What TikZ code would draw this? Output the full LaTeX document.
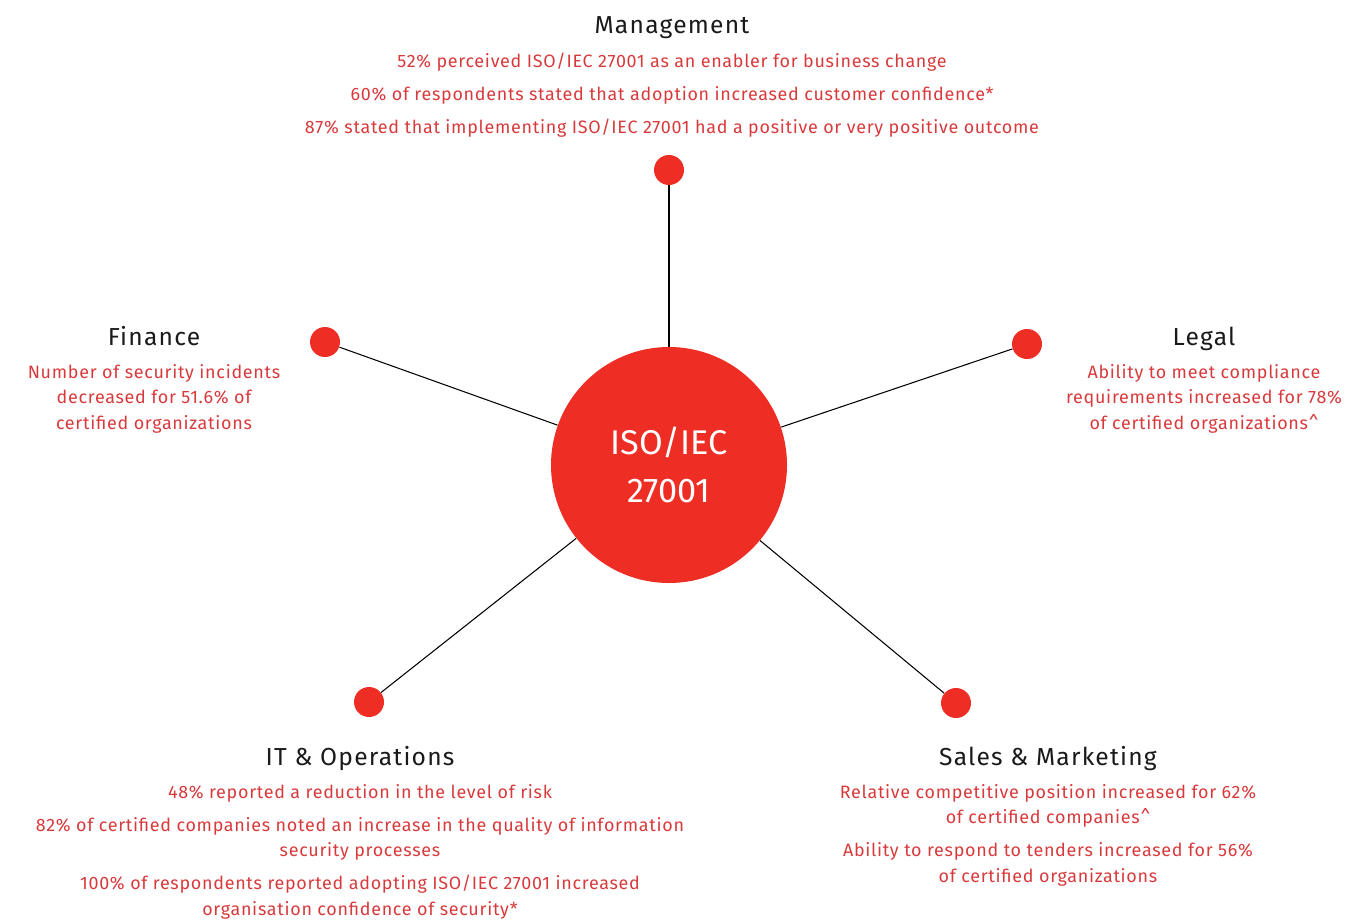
\documentclass[tikz,border=0pt]{standalone}
\usepackage{fontspec}
\setmainfont{Fira Sans}
\newfontfamily\statfont{Fira Sans}[LetterSpace=4]
\newfontfamily\headfont{Fira Sans}[LetterSpace=5]
\usetikzlibrary{positioning}

\definecolor{isored}{HTML}{EE2E24}
\definecolor{statred}{HTML}{D83A3C}
\definecolor{headblack}{HTML}{1A1A1A}

\tikzset{
  hub/.style={circle, fill=isored, minimum size=4.72cm, inner sep=0pt, text=white, align=center,
    font=\fontsize{19.5}{27}\selectfont},
  spoke/.style={circle, fill=isored, minimum size=0.6cm, inner sep=0pt},
  heading/.style={anchor=base, inner sep=0pt, text=headblack, font=\headfont\fontsize{14}{16}\selectfont},
  stats/.style={anchor=north, inner sep=0pt, text=statred, align=center,
    font=\statfont\fontsize{10.2}{14.5}\selectfont},
  link/.style={draw=black, line width=0.6pt},
}

\begin{document}
\begin{tikzpicture}
  \useasboundingbox (0,0) rectangle (26.9,-18.44);

  \node[hub] (iso) at (13.38,-9.30) {ISO/IEC\\27001};

  \node[spoke] (mgmt) at (13.38,-3.40) {};
  \node[spoke] (fin) at (6.50,-6.84) {};
  \node[spoke] (legal) at (20.54,-6.88) {};
  \node[spoke] (itops) at (7.38,-14.04) {};
  \node[spoke] (sales) at (19.12,-14.06) {};

  \draw[link] (mgmt) -- (iso);
  \draw[link] (fin) -- (iso);
  \draw[link] (legal) -- (iso);
  \draw[link] (itops) -- (iso);
  \draw[link] (sales) -- (iso);

  % headings and figures
  \node[heading] (mgmthead) at (13.44,-0.66) {Management};
  \node[stats, below=0.4cm of mgmthead.base] (mgmttext)
    {52\% perceived ISO/IEC 27001 as an enabler for business change\\[4.2pt]
     60\% of respondents stated that adoption increased customer confidence*\\[4.2pt]
     87\% stated that implementing ISO/IEC 27001 had a positive or very positive outcome};

  \node[heading] (finhead) at (3.08,-6.90) {Finance};
  \node[stats, below=0.38cm of finhead.base] (fintext)
    {Number of security incidents\\decreased for 51.6\% of\\certified organizations};

  \node[heading] (legalhead) at (24.08,-6.90) {Legal};
  \node[stats, below=0.38cm of legalhead.base] (legaltext)
    {Ability to meet compliance\\requirements increased for 78\%\\of certified organizations\^{}};

  \node[heading] (ithead) at (7.20,-15.30) {IT \& Operations};
  \node[stats, below=0.38cm of ithead.base] (ittext)
    {48\% reported a reduction in the level of risk\\[4.2pt]
     82\% of certified companies noted an increase in the quality of information\\security processes\\[4.2pt]
     100\% of respondents reported adopting ISO/IEC 27001 increased\\organisation confidence of security*};

  \node[heading] (saleshead) at (20.96,-15.30) {Sales \& Marketing};
  \node[stats, below=0.38cm of saleshead.base] (salestext)
    {Relative competitive position increased for 62\%\\of certified companies\^{}\\[4.2pt]
     Ability to respond to tenders increased for 56\%\\of certified organizations};
\end{tikzpicture}
\end{document}
